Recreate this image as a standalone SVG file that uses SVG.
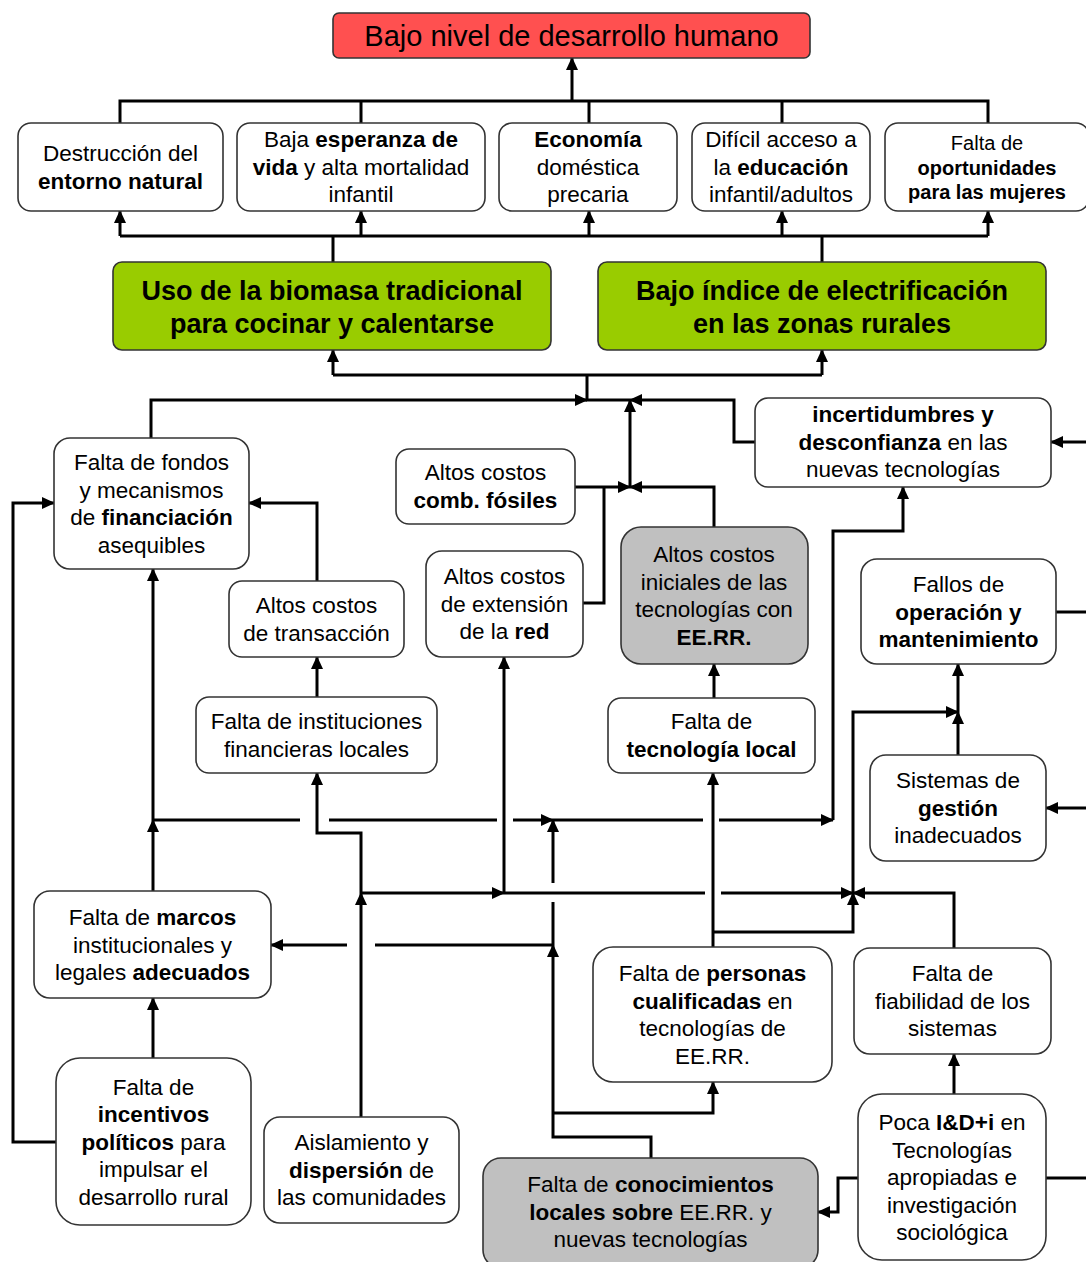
<svg xmlns="http://www.w3.org/2000/svg" width="1086" height="1262" viewBox="0 0 1086 1262">
<style>
.box{fill:#fff;stroke:#333;stroke-width:1.6}
.gray{fill:#c0c0c0;stroke:#333;stroke-width:1.6}
.green{fill:#99cc00;stroke:#333;stroke-width:1.6}
.red{fill:#ff5050;stroke:#333;stroke-width:1.6}
text{font-family:"Liberation Sans",Arial,sans-serif;font-size:22.5px;text-anchor:middle;fill:#000}
.b{font-weight:bold}
.s{font-size:20px}
.g{font-size:27px;font-weight:bold}
.c{fill:none;stroke:#000;stroke-width:3}
.a{marker-end:url(#ah)}
</style>
<defs>
<marker id="ah" markerUnits="userSpaceOnUse" markerWidth="13" markerHeight="12" refX="12" refY="6" orient="auto"><path d="M0,0 L13,6 L0,12 z" fill="#000"/></marker>
</defs>
<rect width="1086" height="1262" fill="#fff"/>

<g id="connectors">
<path class="c" d="M120,123 V101 H988 V123 M361,101 V123 M589,101 V123 M782,101 V123"/>
<path class="c a" d="M572,101 V58"/>
<path class="c" d="M120,236 H988 M333,236 V262 M822,236 V262"/>
<path class="c a" d="M120,236 V211"/>
<path class="c a" d="M361,236 V211"/>
<path class="c a" d="M589,236 V211"/>
<path class="c a" d="M782,236 V211"/>
<path class="c a" d="M988,236 V211"/>
<path class="c" d="M333,375 H822 M587,375 V400 H630"/>
<path class="c a" d="M333,375 V350"/>
<path class="c a" d="M822,375 V350"/>
<path class="c a" d="M151,438 V400 H587"/>
<path class="c a" d="M755,442 H734 V400 H630"/>
<path class="c a" d="M630,487 V400"/>
<path class="c a" d="M575,487 H630"/>
<path class="c" d="M583,603 H604 V487"/>
<path class="c a" d="M714,527 V487 H630"/>
<path class="c a" d="M317,581 V503 H249"/>
<path class="c a" d="M56,1142 H13 V503 H54"/>
<path class="c a" d="M317,697 V657"/>
<path class="c a" d="M361,893 V833 H317 V773"/>
<path class="c a" d="M361,1117 V893"/>
<path class="c a" d="M361,893 H504"/>
<path class="c a" d="M504,893 V657"/>
<path class="c" d="M504,893 H705"/>
<path class="c a" d="M721,893 H853"/>
<path class="c a" d="M153,891 V820"/>
<path class="c a" d="M153,820 V569"/>
<path class="c" d="M153,820 H300 M329,820 H497"/>
<path class="c a" d="M513,820 H553"/>
<path class="c" d="M553,820 H703"/>
<path class="c a" d="M719,820 H833"/>
<path class="c a" d="M833,820 V531 H903 V487"/>
<path class="c a" d="M153,1058 V998"/>
<path class="c a" d="M651,1158 V1137 H553 V945"/>
<path class="c a" d="M553,1113 H713 V1082"/>
<path class="c" d="M553,945 V902"/>
<path class="c a" d="M553,883 V820"/>
<path class="c" d="M553,945 H375"/>
<path class="c a" d="M347,945 H271"/>
<path class="c a" d="M713,947 V773"/>
<path class="c a" d="M713,932 H853 V893"/>
<path class="c a" d="M954,948 V893 H853"/>
<path class="c a" d="M853,893 V712 H958"/>
<path class="c a" d="M958,755 V712"/>
<path class="c a" d="M958,712 V664"/>
<path class="c a" d="M714,698 V664"/>
<path class="c a" d="M954,1094 V1054"/>
<path class="c a" d="M858,1178 H838 V1212 H818"/>
<path class="c" d="M1046,1178 H1086"/>
<path class="c a" d="M1086,442 H1051"/>
<path class="c" d="M1056,612 H1086"/>
<path class="c a" d="M1086,808 H1046"/>
</g>

<g id="n_top"><rect class="red" x="333" y="13" width="477" height="45" rx="6"/><text x="571.5" y="46" style="font-size:29px">Bajo nivel de desarrollo humano</text></g>

<g id="n_destr"><rect class="box" x="18" y="123" width="205" height="88" rx="13"/>
<text x="120.5" y="161">Destrucción del</text><text x="120.5" y="189" class="b">entorno natural</text></g>
<g id="n_vida"><rect class="box" x="237" y="123" width="248" height="88" rx="13"/>
<text x="361" y="147">Baja <tspan class="b">esperanza de</tspan></text><text x="361" y="175"><tspan class="b">vida</tspan> y alta mortalidad</text><text x="361" y="202">infantil</text></g>
<g id="n_econ"><rect class="box" x="499" y="123" width="178" height="88" rx="13"/>
<text x="588" y="147" class="b">Economía</text><text x="588" y="175">doméstica</text><text x="588" y="202">precaria</text></g>
<g id="n_educ"><rect class="box" x="692" y="123" width="178" height="88" rx="13"/>
<text x="781" y="147">Difícil acceso a</text><text x="781" y="175">la <tspan class="b">educación</tspan></text><text x="781" y="202">infantil/adultos</text></g>
<g id="n_muj"><rect class="box" x="885" y="123" width="204" height="88" rx="13"/>
<text x="987" y="150" class="s">Falta de</text><text x="987" y="175" class="s b">oportunidades</text><text x="987" y="199" class="s b">para las mujeres</text></g>

<g id="n_bio"><rect class="green" x="113" y="262" width="438" height="88" rx="9"/>
<text x="332" y="300" class="g">Uso de la biomasa tradicional</text><text x="332" y="333" class="g">para cocinar y calentarse</text></g>
<g id="n_elec"><rect class="green" x="598" y="262" width="448" height="88" rx="9"/>
<text x="822" y="300" class="g">Bajo índice de electrificación</text><text x="822" y="333" class="g">en las zonas rurales</text></g>

<g id="n_fondos"><rect class="box" x="54" y="438" width="195" height="131" rx="16"/>
<text x="151.5" y="470">Falta de fondos</text><text x="151.5" y="497.5">y mecanismos</text><text x="151.5" y="525">de <tspan class="b">financiación</tspan></text><text x="151.5" y="552.5">asequibles</text></g>
<g id="n_fosiles"><rect class="box" x="396" y="449" width="179" height="75" rx="13"/>
<text x="485.5" y="480">Altos costos</text><text x="485.5" y="508" class="b">comb. fósiles</text></g>
<g id="n_incert"><rect class="box" x="755" y="398" width="296" height="89" rx="13"/>
<text x="903" y="422" class="b">incertidumbres y</text><text x="903" y="450"><tspan class="b">desconfianza</tspan> en las</text><text x="903" y="477">nuevas tecnologías</text></g>
<g id="n_transac"><rect class="box" x="229" y="581" width="175" height="76" rx="13"/>
<text x="316.5" y="613">Altos costos</text><text x="316.5" y="641">de transacción</text></g>
<g id="n_red"><rect class="box" x="426" y="551" width="157" height="106" rx="16"/>
<text x="504.5" y="584">Altos costos</text><text x="504.5" y="611.5">de extensión</text><text x="504.5" y="639">de la <tspan class="b">red</tspan></text></g>
<g id="n_inic"><rect class="gray" x="621" y="527" width="187" height="137" rx="20"/>
<text x="714" y="562">Altos costos</text><text x="714" y="589.5">iniciales de las</text><text x="714" y="617">tecnologías con</text><text x="714" y="644.5" class="b">EE.RR.</text></g>
<g id="n_fallos"><rect class="box" x="861" y="559" width="195" height="105" rx="16"/>
<text x="958.5" y="592">Fallos de</text><text x="958.5" y="619.5" class="b">operación y</text><text x="958.5" y="647" class="b">mantenimiento</text></g>
<g id="n_inst"><rect class="box" x="196" y="697" width="241" height="76" rx="13"/>
<text x="316.5" y="729">Falta de instituciones</text><text x="316.5" y="757">financieras locales</text></g>
<g id="n_tecloc"><rect class="box" x="608" y="698" width="207" height="75" rx="13"/>
<text x="711.5" y="729">Falta de</text><text x="711.5" y="757" class="b">tecnología local</text></g>
<g id="n_sist"><rect class="box" x="870" y="755" width="176" height="106" rx="16"/>
<text x="958" y="788">Sistemas de</text><text x="958" y="815.5" class="b">gestión</text><text x="958" y="843">inadecuados</text></g>
<g id="n_marcos"><rect class="box" x="34" y="891" width="237" height="107" rx="16"/>
<text x="152.5" y="925">Falta de <tspan class="b">marcos</tspan></text><text x="152.5" y="952.5">institucionales y</text><text x="152.5" y="980">legales <tspan class="b">adecuados</tspan></text></g>
<g id="n_personas"><rect class="box" x="593" y="947" width="239" height="135" rx="20"/>
<text x="712.5" y="981">Falta de <tspan class="b">personas</tspan></text><text x="712.5" y="1008.5"><tspan class="b">cualificadas</tspan> en</text><text x="712.5" y="1036">tecnologías de</text><text x="712.5" y="1063.5">EE.RR.</text></g>
<g id="n_fiab"><rect class="box" x="854" y="948" width="197" height="106" rx="16"/>
<text x="952.5" y="981">Falta de</text><text x="952.5" y="1008.5">fiabilidad de los</text><text x="952.5" y="1036">sistemas</text></g>
<g id="n_incent"><rect class="box" x="56" y="1058" width="195" height="167" rx="24"/>
<text x="153.5" y="1094.5">Falta de</text><text x="153.5" y="1122" class="b">incentivos</text><text x="153.5" y="1149.5"><tspan class="b">políticos</tspan> para</text><text x="153.5" y="1177">impulsar el</text><text x="153.5" y="1204.5">desarrollo rural</text></g>
<g id="n_aisl"><rect class="box" x="264" y="1117" width="195" height="106" rx="16"/>
<text x="361.5" y="1150">Aislamiento y</text><text x="361.5" y="1177.5"><tspan class="b">dispersión</tspan> de</text><text x="361.5" y="1205">las comunidades</text></g>
<g id="n_conoc"><rect class="gray" x="483" y="1158" width="335" height="110" rx="18"/>
<text x="650.5" y="1192">Falta de <tspan class="b">conocimientos</tspan></text><text x="650.5" y="1219.5"><tspan class="b">locales sobre</tspan> EE.RR. y</text><text x="650.5" y="1247">nuevas tecnologías</text></g>
<g id="n_poca"><rect class="box" x="858" y="1094" width="188" height="166" rx="24"/>
<text x="952" y="1130">Poca <tspan class="b">I&amp;D+i</tspan> en</text><text x="952" y="1157.5">Tecnologías</text><text x="952" y="1185">apropiadas e</text><text x="952" y="1212.5">investigación</text><text x="952" y="1240">sociológica</text></g>
</svg>
